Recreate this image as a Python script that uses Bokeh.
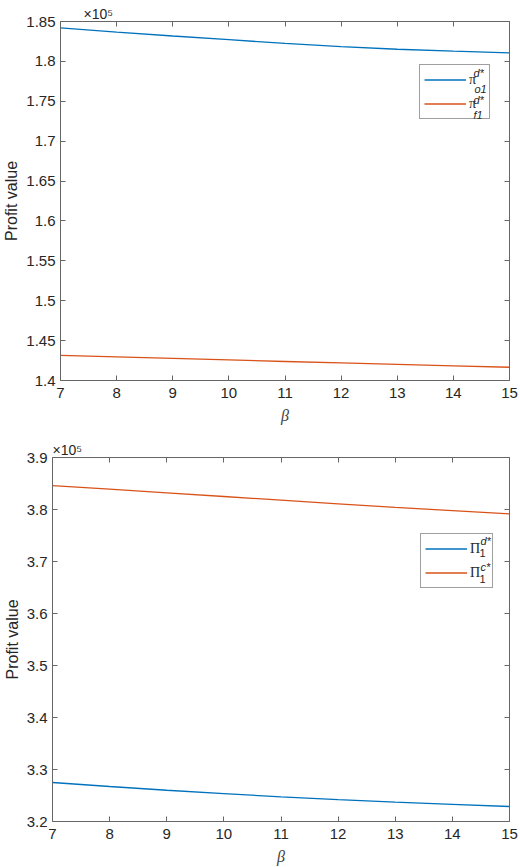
from bokeh.plotting import figure
from bokeh.models import (Range1d, FixedTicker, LinearAxis, Legend, LegendItem,
                          CustomJSTickFormatter)
from bokeh.core.properties import value
from bokeh.embed import file_html
from bokeh.resources import INLINE

# ---------------- data ----------------
beta = [7, 8, 9, 10, 11, 12, 13, 14, 15]
pi_o1 = [184200, 183670, 183180, 182720, 182250, 181850, 181520, 181280, 181070]
pi_f1 = [143160, 142960, 142770, 142580, 142380, 142200, 142010, 141830, 141660]
Pi_d = [327500, 326730, 326010, 325360, 324750, 324200, 323710, 323280, 322880]
Pi_c = [384600, 383900, 383200, 382500, 381800, 381100, 380400, 379800, 379170]

x_ticks = [7, 8, 9, 10, 11, 12, 13, 14, 15]
y1_ticks = [140000, 145000, 150000, 155000, 160000, 165000, 170000, 175000, 180000, 185000]
y1_labels = ["1.4", "1.45", "1.5", "1.55", "1.6", "1.65", "1.7", "1.75", "1.8", "1.85"]
y2_ticks = [320000, 330000, 340000, 350000, 360000, 370000, 380000, 390000]
y2_labels = ["3.2", "3.3", "3.4", "3.5", "3.6", "3.7", "3.8", "3.9"]

BLUE = "#0072BD"
ORANGE = "#D95319"
AX = "#666666"
TXT = "#262626"
SANS = "Liberation Sans"
SERIF = "Liberation Serif"


def style_axis(ax, labels=True, standoff=5):
    ax.axis_line_color = AX
    ax.axis_line_width = 1
    ax.major_tick_line_color = AX
    ax.major_tick_in = 5
    ax.major_tick_out = 0
    ax.minor_tick_line_color = None
    if labels:
        ax.major_label_text_font = SANS
        ax.major_label_text_font_size = "15px"
        ax.major_label_text_color = TXT
        ax.major_label_standoff = standoff
    else:
        ax.formatter = CustomJSTickFormatter(code="return ''")
        ax.major_label_text_font_size = "0px"
        ax.major_label_standoff = 0


def make_fig(h, yr, yticks, ylabels, bl, bt, bb, br, title_off):
    p = figure(width=520, height=h, output_backend="svg", toolbar_location=None,
               x_range=Range1d(7, 15), y_range=Range1d(*yr),
               min_border_left=bl, min_border_top=bt, min_border_bottom=bb,
               min_border_right=br, title="×10⁵")
    p.title.text_font = SANS
    p.title.text_font_size = "14px"
    p.title.text_font_style = "normal"
    p.title.text_color = TXT
    p.title.align = "left"
    p.title.offset = title_off
    p.title.standoff = 0
    p.outline_line_color = None
    p.grid.visible = False
    p.background_fill_color = "white"
    p.border_fill_color = "white"
    p.xaxis.ticker = FixedTicker(ticks=x_ticks)
    p.yaxis.ticker = FixedTicker(ticks=yticks)
    p.yaxis.major_label_overrides = {t: l for t, l in zip(yticks, ylabels)}
    style_axis(p.xaxis[0], standoff=7)
    style_axis(p.yaxis[0], standoff=5)
    p.xaxis.axis_label = "β"
    p.xaxis.axis_label_text_font = SERIF
    p.xaxis.axis_label_text_font_style = "italic"
    p.xaxis.axis_label_text_font_size = "16px"
    p.xaxis.axis_label_text_color = "#404040"
    p.xaxis.axis_label_standoff = 6
    p.yaxis.axis_label = "Profit value"
    p.yaxis.axis_label_text_font = SANS
    p.yaxis.axis_label_text_font_style = "normal"
    p.yaxis.axis_label_text_font_size = "16px"
    p.yaxis.axis_label_text_color = TXT
    p.yaxis.axis_label_standoff = 3
    top = LinearAxis(ticker=FixedTicker(ticks=x_ticks))
    right = LinearAxis(ticker=FixedTicker(ticks=yticks))
    style_axis(top, False)
    style_axis(right, False)
    p.add_layout(top, "above")
    p.add_layout(right, "right")
    return p


def add_text(p, x, y, dx, dy, text, style="italic", size="11px"):
    # legend super/subscripts: anchored at a frame point, offset in pixels
    p.text(x=[x], y=[y], text=[text], x_offset=dx, y_offset=dy,
           text_font=value(SANS), text_font_size=size, text_font_style=style,
           text_color=TXT, text_align="left", text_baseline="middle")


def make_legend(p, items, loc, lw):
    lg = Legend(items=items, location=loc, orientation="vertical",
                padding=4, spacing=3, glyph_width=42, glyph_height=21,
                label_height=21, label_width=lw, label_standoff=3,
                label_text_font=SERIF, label_text_font_size="14px",
                label_text_color=TXT, border_line_color="#404040",
                border_line_width=1, background_fill_alpha=0, margin=0)
    p.add_layout(lg)


x1 = x_ticks[-1]

# ---------------- top figure ----------------
p1 = make_fig(428, (140000, 185000), y1_ticks, y1_labels, 54, 21, 48, 11, 23)
r1 = p1.line(beta, pi_o1, line_color=BLUE, line_width=1.3)
r2 = p1.line(beta, pi_f1, line_color=ORANGE, line_width=1.3)
make_legend(p1, [LegendItem(label="π", renderers=[r1]),
                 LegendItem(label="π", renderers=[r2])], (359, 261), 16)
ymid1 = (y1_ticks[0] + y1_ticks[-1]) / 2
add_text(p1, x1, ymid1, -36, -128.5, "d*")
add_text(p1, x1, ymid1, -35, -111.8, "o1")
add_text(p1, x1, ymid1, -36, -100.8, "d*")
add_text(p1, x1, ymid1, -36, -86.3, "f1")

# ---------------- bottom figure ----------------
p2 = make_fig(439, (320000, 390000), y2_ticks, y2_labels, 48, 29, 46, 11, 0)
r3 = p2.line(beta, Pi_d, line_color=BLUE, line_width=1.3)
r4 = p2.line(beta, Pi_c, line_color=ORANGE, line_width=1.3)
make_legend(p2, [LegendItem(label="Π", renderers=[r3]),
                 LegendItem(label="Π", renderers=[r4])], (368, 233), 18)
ymid2 = (y2_ticks[0] + y2_ticks[-1]) / 2
add_text(p2, x1, ymid2, -29, -99, "d*")
add_text(p2, x1, ymid2, -30, -87, "1", style="normal")
add_text(p2, x1, ymid2, -29, -73, "c*")
add_text(p2, x1, ymid2, -30, -61, "1", style="normal")

# two separate roots, stacked, so their frames are not forced into alignment
open("out.html", "w").write(file_html([p1, p2], INLINE))
